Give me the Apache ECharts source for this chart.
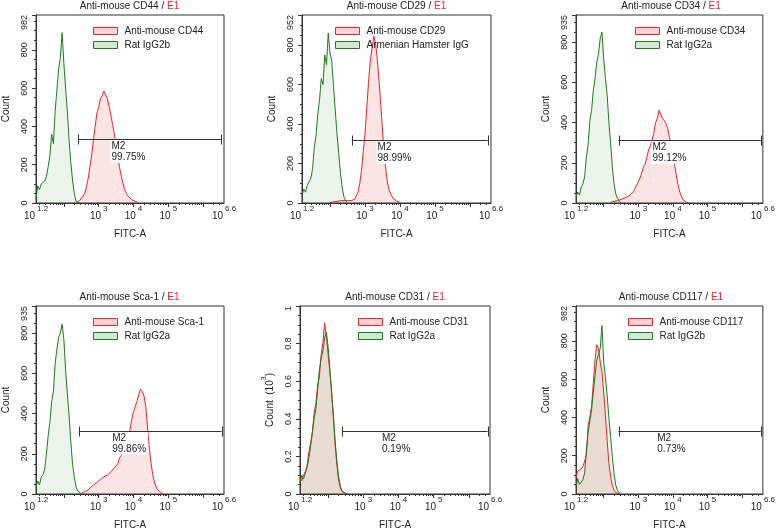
<!DOCTYPE html>
<html><head><meta charset="utf-8">
<script src="https://cdn.jsdelivr.net/npm/echarts@6/dist/echarts.min.js"></script>
<style>html,body{margin:0;padding:0;background:#fff}#c{width:778px;height:531px}</style>
</head><body><div id="c"></div>
<script>
const FONT = 'Liberation Sans, Arial, sans-serif';
const RED = '#e8242b';
const GREEN = '#1f7a1f';

// ---- texts ----
const markers = ['Anti-mouse CD44', 'Anti-mouse CD29', 'Anti-mouse CD34', 'Anti-mouse Sca-1', 'Anti-mouse CD31', 'Anti-mouse CD117'];
const isotypes = ['Rat IgG2b', 'Armenian Hamster IgG', 'Rat IgG2a', 'Rat IgG2a', 'Rat IgG2a', 'Rat IgG2b'];
const sampleTag = 'E1';
const xName = 'FITC-A';

// ---- axes ----
const xMin = 1.2, xMax = 6.6;                 // log10 of FITC-A
const xTickLogs = [1.2, 3, 4, 5, 6.6];
const xTickSup = ['1.2', '3', '4', '5', '6.6'];
const yMaxes = [982, 952, 935, 935, 1, 982];
const yIntervals = [200, 200, 200, 200, 0.2, 200];

// ---- histograms: one count per 0.05-decade bin, starting at the given log10 value ----
const BIN_STEP = 0.05;
const cd44Start = 2.35;
const cd44Counts = [3, 8, 12, 20, 35, 50, 85, 130, 190, 250, 330, 400, 470, 500, 545, 560, 585, 575, 545, 505, 460, 410, 360, 300, 240, 185, 140, 100, 70, 50, 35, 25, 18, 12, 8, 4, 2];
const cd44IsoStart = 1.2;
const cd44IsoCounts = [20, 90, 70, 100, 105, 115, 140, 190, 250, 360, 310, 480, 590, 700, 760, 890, 730, 600, 480, 330, 210, 120, 50, 10, 5, 0];

const cd29Start = 2.0;
const cd29Counts = [2, 5, 6, 8, 8, 10, 12, 10, 12, 15, 12, 15, 12, 15, 18, 25, 55, 100, 165, 260, 350, 480, 610, 720, 780, 845, 810, 730, 620, 500, 370, 240, 160, 95, 60, 40, 25, 15, 10, 5, 2];
const cd29IsoStart = 1.2;
const cd29IsoCounts = [40, 70, 55, 90, 100, 125, 170, 280, 340, 450, 520, 630, 600, 750, 700, 860, 760, 720, 590, 470, 350, 250, 150, 75, 30, 10, 3];

const cd34Start = 2.2;
const cd34Counts = [3, 5, 8, 10, 12, 15, 18, 20, 25, 28, 32, 38, 45, 55, 70, 85, 105, 125, 150, 180, 195, 230, 265, 285, 315, 350, 400, 420, 462, 440, 420, 410, 395, 370, 330, 290, 240, 190, 135, 90, 55, 30, 15, 8, 4, 1];
const cd34IsoStart = 1.2;
const cd34IsoCounts = [30, 55, 40, 80, 95, 130, 230, 290, 410, 460, 560, 620, 700, 740, 820, 850, 720, 620, 540, 400, 300, 180, 95, 45, 22, 8, 2];

const sca1Start = 2.5;
const sca1Counts = [5, 8, 12, 15, 20, 30, 38, 45, 50, 58, 65, 72, 78, 85, 90, 95, 103, 110, 120, 130, 138, 150, 180, 190, 215, 245, 265, 290, 320, 370, 410, 435, 460, 495, 520, 510, 490, 440, 340, 240, 160, 100, 60, 35, 20, 12, 6, 2];
const sca1IsoStart = 1.2;
const sca1IsoCounts = [35, 65, 45, 85, 95, 125, 200, 290, 360, 460, 510, 650, 720, 780, 800, 845, 770, 620, 500, 390, 260, 150, 85, 35, 14, 5, 1];

const cd31Start = 1.2;   // thousands
const cd31Counts = [0.09, 0.07, 0.10, 0.12, 0.15, 0.22, 0.27, 0.32, 0.43, 0.48, 0.58, 0.62, 0.74, 0.80, 0.91, 0.84, 0.74, 0.65, 0.55, 0.40, 0.26, 0.15, 0.07, 0.03, 0.012, 0.005, 0.003, 0.001];
const cd31IsoStart = 1.2;
const cd31IsoCounts = [0.06, 0.10, 0.08, 0.11, 0.14, 0.19, 0.25, 0.33, 0.40, 0.45, 0.55, 0.66, 0.72, 0.76, 0.83, 0.86, 0.78, 0.66, 0.53, 0.42, 0.28, 0.17, 0.09, 0.04, 0.015, 0.008, 0.004, 0.002];

const cd117Start = 1.2;
const cd117Counts = [90, 120, 110, 130, 145, 150, 200, 360, 400, 460, 580, 700, 780, 760, 690, 640, 530, 410, 280, 160, 90, 45, 20, 8, 3, 1];
const cd117IsoStart = 1.2;
const cd117IsoCounts = [40, 80, 50, 60, 75, 110, 230, 320, 380, 440, 530, 620, 700, 690, 760, 880, 690, 610, 515, 400, 300, 195, 105, 45, 18, 6, 2];

// ---- M2 gates ----
const gateFrom = [2.42, 2.62, 2.43, 2.43, 2.40, 2.43];
const gateTo = [6.51, 6.50, 6.54, 6.53, 6.53, 6.54];
const gateLevel = [333, 319, 313, 315, 0.335, 331];
const gateTextAt = [3.34, 3.33, 3.38, 3.36, 3.50, 3.52];
const gateName = 'M2';
const gatePct = ['99.75%', '98.99%', '99.12%', '99.86%', '0.19%', '0.73%'];

const sampleStarts = [cd44Start, cd29Start, cd34Start, sca1Start, cd31Start, cd117Start];
const sampleSets = [cd44Counts, cd29Counts, cd34Counts, sca1Counts, cd31Counts, cd117Counts];
const isoStarts = [cd44IsoStart, cd29IsoStart, cd34IsoStart, sca1IsoStart, cd31IsoStart, cd117IsoStart];
const isoSets = [cd44IsoCounts, cd29IsoCounts, cd34IsoCounts, sca1IsoCounts, cd31IsoCounts, cd117IsoCounts];

// ---- layout ----
const boxes = [[35, 15, 189, 188], [302, 15, 189, 188], [576, 15, 190, 188], [35, 306, 189, 188], [300, 306, 190, 188], [576, 306, 190, 188]];
const legendOffsets = [58, 33, 59, 58, 58, 52];

function toPairs(start, counts) {
  return counts.map((c, i) => [Math.round((start + i * BIN_STEP) * 1000) / 1000, c]);
}
const minorLogs = [];
for (let n = 1; n <= 6; n++) for (let k = 2; k <= 9; k++) {
  const v = n + Math.log10(k);
  if (v > xMin && v < xMax) minorLogs.push(v);
}

const grid = [], xAxis = [], yAxis = [], series = [], title = [], legend = [];
const axisColor = '#333', textColor = '#222';
boxes.forEach((b, i) => {
  const [gx, gy, gw, gh] = b;
  grid.push({left: gx, top: gy, width: gw, height: gh, show: true, borderColor: axisColor, borderWidth: 1, containLabel: false});
  xAxis.push({
    gridIndex: i, type: 'value', min: xMin, max: xMax, position: 'bottom',
    axisLine: {show: true, lineStyle: {color: axisColor}}, splitLine: {show: false},
    axisTick: {show: true, customValues: [2, 3, 4, 5, 6], length: 4, lineStyle: {color: axisColor}},
    axisLabel: {
      customValues: xTickLogs, margin: 2,
      formatter: v => { const k = xTickLogs.findIndex(t => Math.abs(t - v) < 1e-6); return '{b|10}{s|' + xTickSup[k] + '}'; },
      rich: {
        b: {fontSize: 10, fontFamily: FONT, color: textColor, lineHeight: 16, verticalAlign: 'bottom'},
        s: {fontSize: 8, fontFamily: FONT, color: textColor, lineHeight: 9, verticalAlign: 'top', padding: [0, 0, 0, 2]}
      }
    },
    name: xName, nameLocation: 'middle', nameGap: 26,
    nameTextStyle: {fontSize: 10, fontFamily: FONT, color: textColor}
  });
  xAxis.push({
    gridIndex: i, type: 'value', min: xMin, max: xMax, position: 'bottom',
    axisLine: {show: false}, splitLine: {show: false}, axisLabel: {show: false},
    axisTick: {show: true, customValues: minorLogs, length: 2, lineStyle: {color: axisColor}}
  });
  yAxis.push({
    gridIndex: i, type: 'value', min: 0, max: yMaxes[i], interval: yIntervals[i],
    axisLine: {show: true, lineStyle: {color: axisColor}}, splitLine: {show: false},
    axisTick: {show: true, length: 4, lineStyle: {color: axisColor}},
    minorTick: {show: true, splitNumber: 4, length: 2, lineStyle: {color: axisColor}},
    axisLabel: {rotate: 90, fontSize: 9, fontFamily: FONT, color: textColor, margin: 7, alignMaxLabel: 'right'},
    name: i === 4 ? '{a|Count  (10}{s|3}{a|)}' : 'Count',
    nameLocation: 'middle', nameGap: 25, nameRotate: 90,
    nameTextStyle: {fontSize: 10, fontFamily: FONT, color: textColor,
      rich: {a: {fontSize: 10, fontFamily: FONT, color: textColor, lineHeight: 14, verticalAlign: 'bottom'},
             s: {fontSize: 7, fontFamily: FONT, color: textColor, lineHeight: 8, verticalAlign: 'top'}}}
  });
  title.push({
    text: '{a|' + markers[i] + ' / }{b|' + sampleTag + '}',
    left: gx + gw / 2, top: gy - 13.5, textAlign: 'center', padding: 0,
    textStyle: {fontWeight: 'normal', fontSize: 10, rich: {
      a: {fontSize: 10, fontWeight: 'normal', fontFamily: FONT, color: textColor},
      b: {fontSize: 10, fontWeight: 'normal', fontFamily: FONT, color: RED}}}
  });
  legend.push({
    orient: 'vertical', left: gx + legendOffsets[i], top: gy + 11, icon: 'rect',
    itemWidth: 24, itemHeight: 7, itemGap: 4, selectedMode: false, padding: 0,
    textStyle: {fontSize: 10, fontFamily: FONT, color: textColor, padding: [0, 0, 0, 2]},
    data: [
      {name: markers[i], itemStyle: {color: '#fcd3d3', borderColor: RED, borderWidth: 1}},
      {name: isotypes[i], itemStyle: {color: '#d3e9d3', borderColor: GREEN, borderWidth: 1}}
    ]
  });
  series.push({
    name: markers[i], type: 'line', xAxisIndex: 2 * i, yAxisIndex: i, data: toPairs(sampleStarts[i], sampleSets[i]),
    showSymbol: false, symbol: 'none', silent: true, clip: true,
    lineStyle: {color: RED, width: 1}, itemStyle: {color: RED},
    areaStyle: {color: 'rgba(240,40,40,0.18)', origin: 'start'}
  });
  series.push({
    name: isotypes[i], type: 'line', xAxisIndex: 2 * i, yAxisIndex: i, data: toPairs(isoStarts[i], isoSets[i]),
    showSymbol: false, symbol: 'none', silent: true, clip: true,
    lineStyle: {color: GREEN, width: 1}, itemStyle: {color: GREEN},
    areaStyle: {color: 'rgba(40,140,40,0.14)', origin: 'start'}
  });
  series.push({
    type: 'custom', xAxisIndex: 2 * i, yAxisIndex: i, z: 10, silent: true,
    data: [[gateFrom[i], gateTo[i], gateLevel[i], gateTextAt[i]]],
    renderItem: (params, api) => {
      const a = api.coord([api.value(0), api.value(2)]);
      const c = api.coord([api.value(1), api.value(2)]);
      const t = api.coord([api.value(3), api.value(2)]);
      const y = Math.round(a[1]) + 0.5;
      const ln = {stroke: '#333', lineWidth: 1};
      return {type: 'group', children: [
        {type: 'line', shape: {x1: a[0], y1: y, x2: c[0], y2: y}, style: ln},
        {type: 'line', shape: {x1: Math.round(a[0]) + 0.5, y1: y - 5, x2: Math.round(a[0]) + 0.5, y2: y + 5}, style: ln},
        {type: 'line', shape: {x1: Math.round(c[0]) + 0.5, y1: y - 5, x2: Math.round(c[0]) + 0.5, y2: y + 5}, style: ln},
        {type: 'text', x: t[0], y: y + 0.5, z2: 5, style: {
          text: gateName + '\n' + gatePct[i], fill: textColor, font: '10px ' + FONT,
          backgroundColor: '#fff', padding: [0, 2, 0, 1], lineHeight: 11.5, align: 'left', verticalAlign: 'top'}}
      ]};
    }
  });
});

const chart = echarts.init(document.getElementById('c'), null, {renderer: 'canvas'});
chart.setOption({animation: false, backgroundColor: '#fff', grid, xAxis, yAxis, title, legend, series});
</script></body></html>
